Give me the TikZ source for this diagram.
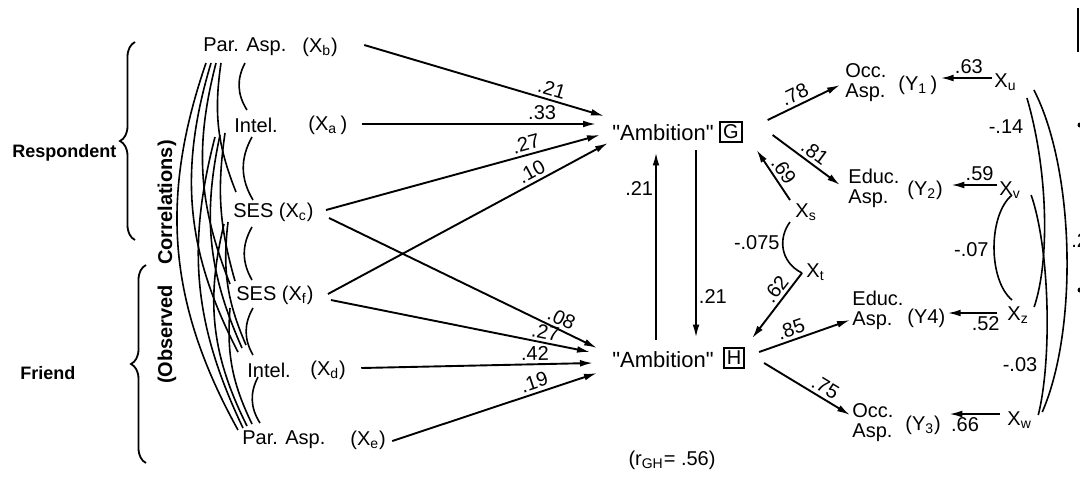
\documentclass[tikz,border=0pt]{standalone}
\usepackage{fontspec}
\setmainfont{Liberation Sans}
\newfontfamily\qfont{Liberation Sans}
\usetikzlibrary{arrows.meta,decorations.pathreplacing}
\tikzset{
 txt/.style={font=\fontsize{10}{10}\selectfont, inner sep=1pt, anchor=west},
 two/.style={font=\fontsize{10}{10}\selectfont, inner sep=1pt, anchor=west, align=left},
 ttl/.style={font=\bfseries\fontsize{9}{11}\selectfont, inner sep=1pt},
 amb/.style={font=\qfont\fontsize{11}{12}\selectfont, inner sep=1pt, anchor=west},
 boxed/.style={draw, line width=0.85pt, font=\fontsize{10}{10}\selectfont, inner sep=1.5pt},
 arr/.style={line width=0.95pt, -{Latex[length=6.5pt,width=3.4pt]}},
 corr/.style={line width=0.8pt},
 wt/.style={font=\fontsize{10}{10}\selectfont, inner sep=1.5pt, sloped, above},
 wtb/.style={font=\fontsize{10}{10}\selectfont, inner sep=1.5pt, sloped, below},
 num/.style={font=\fontsize{10}{10}\selectfont, inner sep=1pt},
 brc/.style={decorate, line width=0.9pt}
}
\begin{document}
\begin{tikzpicture}[x=0.5pt,y=-0.5pt]
\useasboundingbox (0,0) rectangle (1080,479);
\clip (0,0) rectangle (1080,479);

% ---- left titles and braces
\node[ttl,anchor=west] (resp) at (10,153) {Respondent};
\node[ttl,anchor=west] (friend) at (18,373) {Friend};
\node[ttl,font=\bfseries\fontsize{10}{11}\selectfont,rotate=90] (obs) at (167,262) {(Observed\hspace{10pt}Correlations)};
\coordinate (rb1) at (135,240); \coordinate (rb2) at (135,42);
\coordinate (fb1) at (146,463); \coordinate (fb2) at (146,265);
\draw[brc,decoration={brace,amplitude=7.5pt}] (rb1) -- (rb2);
\draw[brc,decoration={brace,amplitude=7.5pt}] (fb1) -- (fb2);

% ---- left variables
\node[txt] (xbl) at (201,47) {Par. Asp.};
\node[txt] (xb) at (300,47) {(X\textsubscript{b})};
\node[txt] (xal) at (232,125) {Intel.};
\node[txt] (xa) at (306,125) {(X\textsubscript{a}\,)};
\node[txt] (xc) at (231,212) {SES (X\textsubscript{c})};
\node[txt] (xf) at (234,295) {SES (X\textsubscript{f})};
\node[txt] (xdl) at (245,370) {Intel.};
\node[txt] (xd) at (308,370) {(X\textsubscript{d})};
\node[txt] (xel) at (240,440) {Par. Asp.};
\node[txt] (xe) at (348,440) {(X\textsubscript{e})};

% ---- ambition nodes
\node[amb] (G) at (610,133) {"Ambition"};
\node[boxed] (Gb) at (731,132) {G};
\node[amb] (H) at (610,360) {"Ambition"};
\node[boxed] (Hb) at (734,358) {H};
\node[txt,anchor=center] (rgh) at (672,460) {(r\textsubscript{GH}= .56)};

% ---- arrows into G
\draw[arr] ([shift={(24,-2)}]xb.east) -- ([shift={(-6,-17)}]G.west) node[wt,pos=0.77] (w1) {.21};
\draw[arr] ([shift={(12,-1)}]xa.east) -- ([shift={(-14,-9)}]G.west) node[wt,pos=0.77] (w2) {.33};
\draw[arr] ([shift={(10,-2)}]xc.east) -- ([shift={(-10,2)}]G.west) node[wt,pos=0.74] (w3) {.27};
\draw[arr] ([shift={(12,-1)}]xf.east) -- ([shift={(-2,10)}]G.west) node[wt,pos=0.745] (w4) {.10};
% ---- arrows into H
\draw[arr] ([shift={(13,6)}]xc.east) -- ([shift={(-13,-12)}]H.west) node[wt,pos=0.85] (w5) {.08};
\draw[arr] ([shift={(15,5)}]xf.east) -- ([shift={(-20,-8)}]H.west) node[wt,pos=0.82] (w6) {.27};
\draw[arr] ([shift={(13,-2)}]xd.east) -- ([shift={(-17,3)}]H.west) node[wt,pos=0.75] (w7) {.42};
\draw[arr] ([shift={(4,1)}]xe.east) -- ([shift={(-13,13)}]H.west) node[wt,pos=0.71] (w8) {.19};

% ---- reciprocal arrows
\draw[arr] ([shift={(-7,-10)}]H.north) -- ([shift={(-7,9)}]G.south) node[num,left,pos=0.81] (w9) {.21};
\draw[arr] ([shift={(33,7)}]G.south) -- ([shift={(33,-12)}]H.north) node[num,right,pos=0.78] (w10) {.21};

% ---- right side labels
\node[two] (y1t) at (843,83) {Occ.\\Asp.};
\node[txt] (y1) at (896,85) {(Y\textsubscript{1}\,)};
\node[two] (y2t) at (846,188) {Educ.\\Asp.};
\node[txt] (y2) at (905,190) {(Y\textsubscript{2})};
\node[two] (y4t) at (850,310) {Educ.\\Asp.};
\node[txt] (y4) at (905,318) {(Y4)};
\node[two] (y3t) at (850,423) {Occ.\\Asp.};
\node[txt] (y3) at (903,425) {(Y\textsubscript{3})};

\node[txt] (xs) at (793,212) {X\textsubscript{s}};
\node[txt] (xt) at (804,272) {X\textsubscript{t}};
\node[txt] (xu) at (992,82) {X\textsubscript{u}};
\node[txt] (xv) at (997,190) {X\textsubscript{v}};
\node[txt] (xz) at (1005,315) {X\textsubscript{z}};
\node[txt] (xw) at (1005,420) {X\textsubscript{w}};

% ---- arrows out of G and H
\draw[arr] ([shift={(25,-12)}]Gb.east) -- ([shift={(-3,2)}]y1t.west) node[wt,pos=0.44] (w11) {.78};
\draw[arr] ([shift={(30,3)}]Gb.east) -- ([shift={(-6,-3)}]y2t.west) node[wt,pos=0.53] (w12) {.81};
\draw[arr] ([shift={(-3,-12)}]xs.west) -- ([shift={(14,7)}]Gb.south east) node[wt,pos=0.46] (w13) {.69};
\draw[arr] ([shift={(-2,1)}]xt.west) -- ([shift={(7,-9)}]Hb.north east) node[wt,pos=0.35] (w14) {.62};
\draw[arr] ([shift={(14,-6)}]Hb.east) -- ([shift={(0,10)}]y4t.west) node[wt,pos=0.39] (w15) {.85};
\draw[arr] ([shift={(19,5)}]Hb.east) -- ([shift={(0,-8)}]y3t.west) node[wt,pos=0.65] (w16) {.75};

\draw[corr] ([shift={(-3,10)}]xs.west) .. controls (778,238) and (780,262) .. ([shift={(-2,1)}]xt.west);
\node[num,anchor=east] (c1) at (782,243) {-.075};

% ---- arrows from X's on the right
\draw[arr] ([shift={(0,-4)}]xu.west) -- ([shift={(1,-7)}]y1.east) node[wt,pos=0.45] (w17) {.63};
\draw[arr] ([shift={(0,-5)}]xv.west) -- ([shift={(6,-5)}]y2.east) node[wt,pos=0.38] (w18) {.59};
\draw[arr] ([shift={(-8,-2)}]xz.west) -- ([shift={(0,-5)}]y4.east) node[wtb,pos=0.23] (w19) {.52};
\draw[arr] ([shift={(-5,-6)}]xw.west) -- ([shift={(6,-11)}]y3.east) node[wtb,pos=0.69] (w20) {.66};

% ---- correlations on the right
\draw[corr] ([shift={(15,5)}]xv.west) .. controls (988,215) and (988,280) .. ([shift={(7,-15)}]xz.west);
\node[num,anchor=east] (c2) at (991,250) {-.07};
\draw[corr] ([shift={(8,16)}]xu.east) .. controls (1048,170) and (1050,260) .. ([shift={(3,-8)}]xz.east);
\node[num] (c3) at (1006,127) {-.14};
\draw[corr] ([shift={(8,5)}]xv.east) .. controls (1050,250) and (1052,360) .. ([shift={(4,-5)}]xw.east);
\node[num] (c4) at (1020,365) {-.03};
\draw[corr] ([shift={(15,8)}]xu.east) .. controls (1075,170) and (1078,330) .. ([shift={(8,-8)}]xw.east);
\node[num,anchor=west] (c5) at (1069,241) {.2};

% ---- left correlation arcs (adjacent)
\coordinate (s1) at (245,63); \coordinate (e1) at (247,110);
\coordinate (s2) at (252,137); \coordinate (e2) at (253,200);
\coordinate (s3) at (252,227); \coordinate (e3) at (252,280);
\coordinate (s4) at (253,308); \coordinate (e4) at (253,355);
\coordinate (s5) at (258,377); \coordinate (e5) at (260,423);
\foreach \i in {1,...,5} \draw[corr] (s\i) to[bend right=30] (e\i);

% ---- left long correlation arcs
\coordinate (b1) at (206,63); \coordinate (b2) at (211,63);
\coordinate (b3) at (216,63); \coordinate (b4) at (221,63);
\coordinate (a1) at (215,137); \coordinate (a2) at (220,135); \coordinate (a3) at (225,133);
\coordinate (c1s) at (224,224); \coordinate (c2s) at (228,222);
\coordinate (f1s) at (230,308);
\coordinate (cb) at (236,192);
\coordinate (fb) at (230,284); \coordinate (fa) at (235,281);
\coordinate (db) at (238,352); \coordinate (da) at (242,348); \coordinate (dc) at (246,345);
\coordinate (eb) at (238,430); \coordinate (ea) at (243,428); \coordinate (ec) at (247,426); \coordinate (ef) at (252,424);
\draw[corr] (b1) to[bend right=24] (eb);
\draw[corr] (b2) to[bend right=22] (db);
\draw[corr] (b3) to[bend right=18] (fb);
\draw[corr] (b4) to[bend right=15] (cb);
\draw[corr] (a1) to[bend right=20] (ea);
\draw[corr] (a2) to[bend right=18] (da);
\draw[corr] (a3) to[bend right=12] (fa);
\draw[corr] (c1s) to[bend right=20] (ec);
\draw[corr] (c2s) to[bend right=15] (dc);
\draw[corr] (f1s) to[bend right=15] (ef);

% ---- cut page edge marks
\coordinate (m1) at (1078,8); \coordinate (m2) at (1078,52);
\draw[line width=1pt] (m1) -- (m2);
\fill (1080,125) circle (2.5);
\fill (1080,290) circle (2.5);
\end{tikzpicture}
\end{document}
